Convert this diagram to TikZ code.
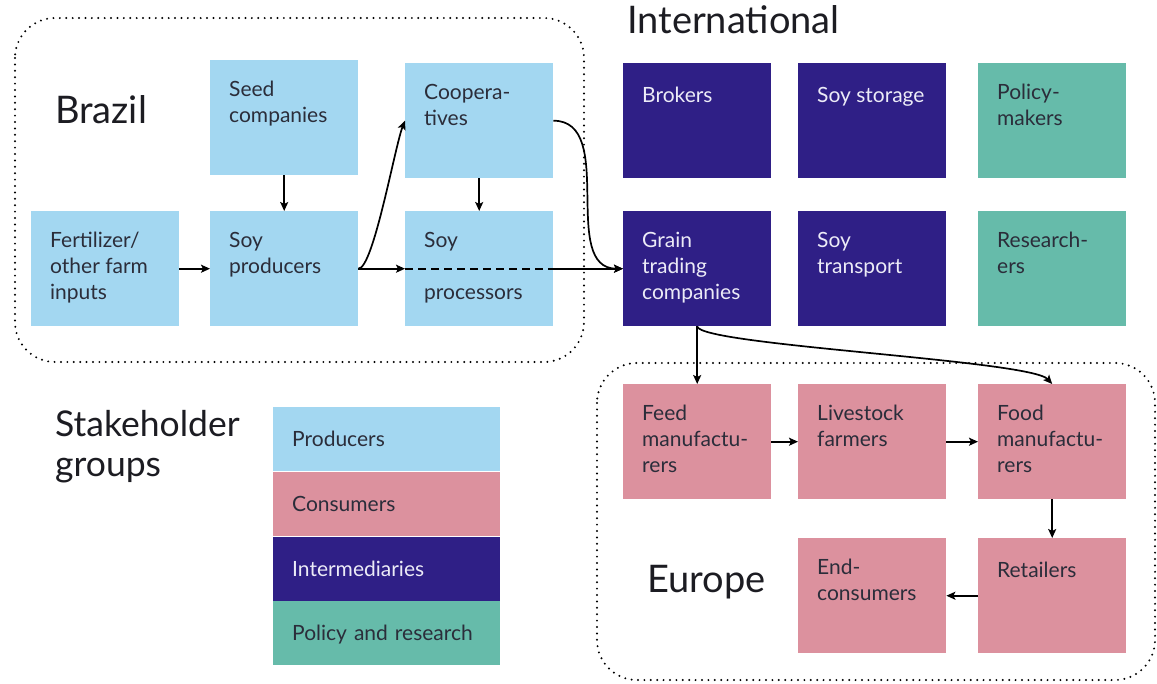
\documentclass[tikz,border=0pt]{standalone}
\usepackage{fontspec}
\setmainfont{Lato}
\usetikzlibrary{arrows.meta,positioning}

\definecolor{prodblue}{HTML}{A3D7F1}
\definecolor{conspink}{HTML}{DC919E}
\definecolor{interpurple}{HTML}{2F1F86}
\definecolor{policyteal}{HTML}{66BBAA}
\definecolor{darktext}{HTML}{2B2D3A}
\definecolor{lighttext}{HTML}{ECEBF7}
\definecolor{titletext}{HTML}{1C1C22}

\begin{document}
\begin{tikzpicture}[x=1pt, y=-1pt,
  box/.style={rectangle, anchor=north west, minimum width=148pt, minimum height=115pt, inner sep=0pt},
  txt/.style={anchor=north west, align=left, inner sep=0pt, xshift=19pt, yshift=-21pt,
    font=\fontsize{21}{26}\selectfont, execute at begin node=\strut},
  producer/.style={box, fill=prodblue, label={[txt, text=darktext]north west:#1}},
  consumer/.style={box, fill=conspink, label={[txt, text=darktext]north west:#1}},
  broker/.style={box, fill=interpurple, label={[txt, text=lighttext]north west:#1}},
  policy/.style={box, fill=policyteal, label={[txt, text=darktext]north west:#1}},
  legend/.style={rectangle, anchor=north west, minimum width=227pt, minimum height=64.25pt, inner sep=0pt,
    text width=189pt, align=left, text height=15pt, text depth=0pt, font=\fontsize{21}{26}\selectfont},
  region/.style={inner sep=0pt, text=titletext, font=\fontsize{38}{42}\selectfont},
  frame/.style={rounded corners=40pt, line width=2.2pt, dash pattern=on 0pt off 6.4pt, line cap=round},
  arr/.style={-{Stealth[length=9pt, width=8pt, inset=2pt]}, line width=1.7pt},
]
  \useasboundingbox[fill=white] (0,0) rectangle (1157,683);

  % dotted regions
  \draw[frame] (15,18) rectangle (584,362);
  \draw[frame] (597,363) rectangle (1155,680);

  \node[region, anchor=base west] (brazil) at (55,123) {Brazil};
  \node[region, anchor=base west] (intl) at (627,33) {International};
  \node[region, anchor=base west] (europe) at (647,592) {Europe};
  \node[region, anchor=north west, align=left, font=\fontsize{35.5}{40}\selectfont,
    execute at begin node=\strut] (groups) at (55,410) {Stakeholder\\groups};

  % Brazil
  \node[producer={Seed\\companies}] (seed) at (210,60) {};
  \node[producer={Fertilizer/\\other farm\\inputs}] (fert) at (31,211) {};
  \node[producer={Soy\\producers}] (soyprod) at (210,211) {};
  \node[producer={Coopera-\\tives}] (coop) at (405,63) {};
  \node[producer={Soy\\ \\processors}] (proc) at (405,211) {};

  % international
  \node[broker={Brokers}] (brokers) at (623,63) {};
  \node[broker={Soy storage}] (storage) at (798,63) {};
  \node[policy={Policy-\\makers}] (policy) at (978,63) {};
  \node[broker={Grain\\trading\\companies}] (grain) at (623,211) {};
  \node[broker={Soy\\transport}] (transport) at (798,211) {};
  \node[policy={Research-\\ers}] (research) at (978,211) {};

  % Europe
  \node[consumer={Feed\\manufactu-\\rers}] (feed) at (623,384) {};
  \node[consumer={Livestock\\farmers}] (livestock) at (798,384) {};
  \node[consumer={Food\\manufactu-\\rers}] (food) at (978,384) {};
  \node[consumer={End-\\consumers}] (endcons) at (798,538) {};
  \node[consumer={Retailers}] (retail) at (978,538) {};

  % legend
  \node[legend, fill=prodblue, text=darktext] (lgprod) at (273,407) {Producers};
  \node[legend, fill=conspink, text=darktext, below=0pt of lgprod] (lgcons) {Consumers};
  \node[legend, fill=interpurple, text=lighttext, below=0pt of lgcons] (lginter) {Intermediaries};
  \node[legend, fill=policyteal, text=darktext, below=0pt of lginter] (lgpolicy) {Policy and research};

  % flows
  \draw[arr] (seed.south) -- (soyprod.north);
  \draw[arr] (fert.east) -- (soyprod.west);
  \draw[arr] (coop.south) -- (proc.north);
  \draw[arr] (soyprod.east) .. controls +(15,0) and +(-10,25) .. (coop.west);
  \draw[arr] (soyprod.east) -- (proc.west);
  \draw[line width=1.7pt, dash pattern=on 8pt off 5pt] (proc.west) -- (proc.east);
  \draw[arr] (proc.east) -- (grain.west);
  \draw[arr] (coop.east) to[out=0, in=180] (grain.west);
  \draw[arr] (grain.south) -- (feed.north);
  \draw[arr] (grain.south) .. controls +(3,19) and +(-22,-24) .. (food.north);
  \draw[arr] (feed.east) -- (livestock.west);
  \draw[arr] (livestock.east) -- (food.west);
  \draw[arr] (food.south) -- (retail.north);
  \draw[arr] (retail.west) -- (endcons.east);
\end{tikzpicture}
\end{document}
